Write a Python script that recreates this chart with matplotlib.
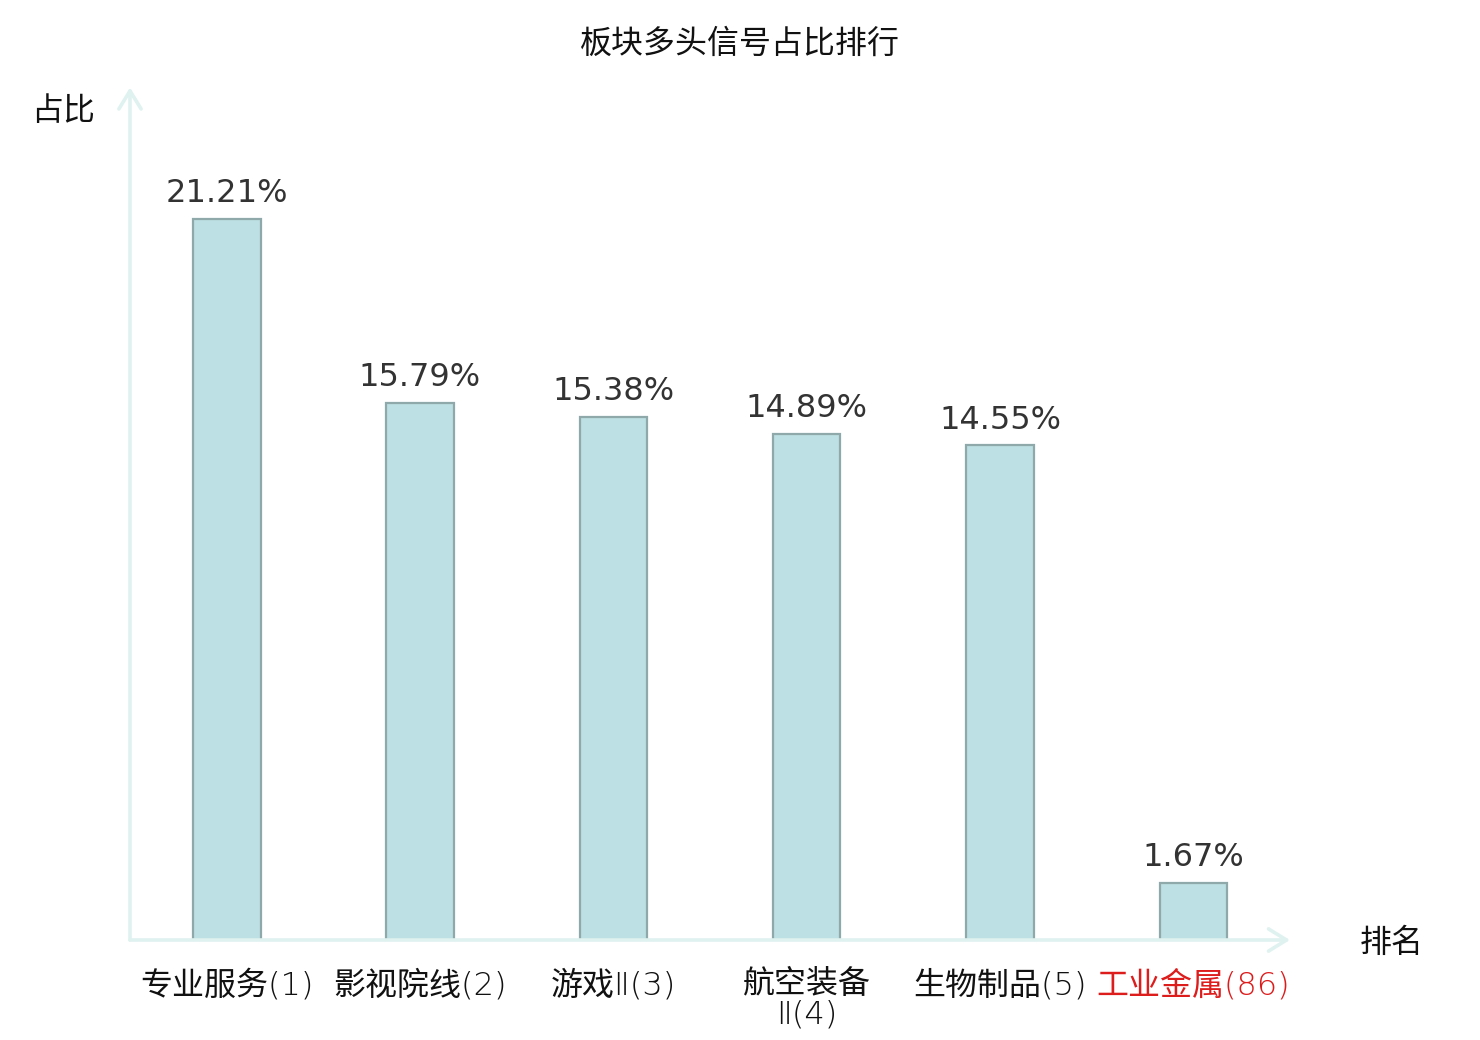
import matplotlib
matplotlib.use("Agg")
import matplotlib.pyplot as plt

plt.rcParams['font.family'] = ['Noto Sans CJK SC', 'DejaVu Sans']

categories = ["专业服务(1)", "影视院线(2)", "游戏Ⅱ(3)", "航空装备\nⅡ(4)", "生物制品(5)", "工业金属(86)"]
values = [21.21, 15.79, 15.38, 14.89, 14.55, 1.67]
label_colors = ["#111111", "#111111", "#111111", "#111111", "#111111", "#dd1c1c"]

W, H, DPI = 1480, 1040, 200
FS = 11.5
fig = plt.figure(figsize=(W / DPI, H / DPI), dpi=DPI)
ax = fig.add_axes([130 / W, (H - 940) / H, (1290 - 130) / W, (940 - 90) / H])

x = list(range(len(categories)))
ax.bar(x, values, width=0.35, color="#bce0e3", edgecolor="#8fa9aa", linewidth=0.8, zorder=3)
ax.set_xlim(-0.5, len(categories) - 0.5)
ax.set_ylim(0, 25)

for xi, v in zip(x, values):
    ax.annotate(f"{v:.2f}%", (xi, v), xytext=(0, 3.5), textcoords="offset points",
                ha="center", va="bottom", fontsize=FS, color="#333333",
                family="DejaVu Sans")

for s in ax.spines.values():
    s.set_visible(False)
ax.set_yticks([])
ax.set_xticks(x)
ax.set_xticklabels(categories, fontsize=FS, linespacing=1.0)
for lab, c in zip(ax.get_xticklabels(), label_colors):
    lab.set_color(c)
    lab.set_family(['DejaVu Sans', 'Noto Sans CJK SC'])
    lab.set_weight('light')
ax.tick_params(axis="x", length=0, pad=10.5)

axis_color = "#dff2ef"
arrow_kw = dict(arrowstyle="->,head_length=0.65,head_width=0.4", color=axis_color, lw=1.3,
                shrinkA=0, shrinkB=0)
ax.annotate("", xy=(1.0, 0), xytext=(0, 0), xycoords="axes fraction",
            arrowprops=arrow_kw, annotation_clip=False)
ax.annotate("", xy=(0, 1.003), xytext=(0, 0), xycoords="axes fraction",
            arrowprops=arrow_kw, annotation_clip=False)

fig.text(740 / W, 1 - 44 / H, "板块多头信号占比排行", ha="center", va="center", fontsize=FS, color="#111111")
fig.text(63 / W, 1 - 111 / H, "占比", ha="center", va="center", fontsize=FS, color="#111111")
fig.text(1392 / W, 1 - 943 / H, "排名", ha="center", va="center", fontsize=FS, color="#111111")

fig.savefig("out.png", dpi=DPI)
